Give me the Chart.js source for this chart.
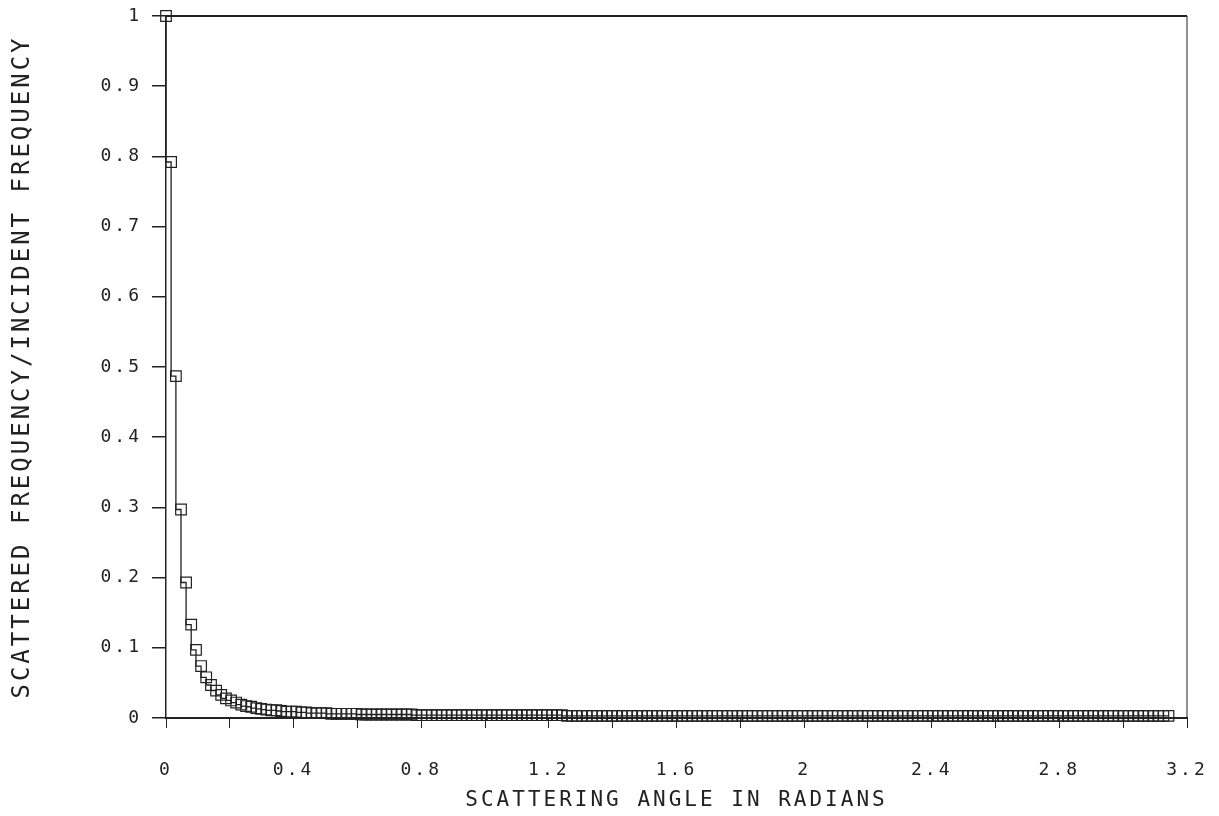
<!DOCTYPE html>
<html>
<head>
<meta charset="utf-8">
<script src="https://cdn.jsdelivr.net/npm/chart.js@4/dist/chart.umd.min.js"></script>
<style>
  html, body { margin: 0; padding: 0; background: #fff; }
  #wrap { position: relative; width: 1219px; height: 816px; }
</style>
</head>
<body>
<div id="wrap"><canvas id="c"></canvas></div>
<script>
// Scattering angle (radians) of each plotted point
const angles = [
  0, 0.016, 0.031, 0.047, 0.063, 0.079, 0.094, 0.110, 0.126, 0.141,
  0.157, 0.173, 0.188, 0.204, 0.220, 0.236, 0.251, 0.267, 0.283, 0.298,
  0.314, 0.330, 0.346, 0.361, 0.377, 0.393, 0.408, 0.424, 0.440, 0.456,
  0.471, 0.487, 0.503, 0.518, 0.534, 0.550, 0.565, 0.581, 0.597, 0.613,
  0.628, 0.644, 0.660, 0.675, 0.691, 0.707, 0.723, 0.738, 0.754, 0.770,
  0.785, 0.801, 0.817, 0.833, 0.848, 0.864, 0.880, 0.895, 0.911, 0.927,
  0.942, 0.958, 0.974, 0.990, 1.005, 1.021, 1.037, 1.052, 1.068, 1.084,
  1.100, 1.115, 1.131, 1.147, 1.162, 1.178, 1.194, 1.210, 1.225, 1.241,
  1.257, 1.272, 1.288, 1.304, 1.319, 1.335, 1.351, 1.367, 1.382, 1.398,
  1.414, 1.429, 1.445, 1.461, 1.477, 1.492, 1.508, 1.524, 1.539, 1.555,
  1.571, 1.587, 1.602, 1.618, 1.634, 1.649, 1.665, 1.681, 1.696, 1.712,
  1.728, 1.744, 1.759, 1.775, 1.791, 1.806, 1.822, 1.838, 1.854, 1.869,
  1.885, 1.901, 1.916, 1.932, 1.948, 1.963, 1.979, 1.995, 2.011, 2.026,
  2.042, 2.058, 2.073, 2.089, 2.105, 2.121, 2.136, 2.152, 2.168, 2.183,
  2.199, 2.215, 2.231, 2.246, 2.262, 2.278, 2.293, 2.309, 2.325, 2.340,
  2.356, 2.372, 2.388, 2.403, 2.419, 2.435, 2.450, 2.466, 2.482, 2.498,
  2.513, 2.529, 2.545, 2.560, 2.576, 2.592, 2.608, 2.623, 2.639, 2.655,
  2.670, 2.686, 2.702, 2.717, 2.733, 2.749, 2.765, 2.780, 2.796, 2.812,
  2.827, 2.843, 2.859, 2.875, 2.890, 2.906, 2.922, 2.937, 2.953, 2.969,
  2.985, 3.000, 3.016, 3.032, 3.047, 3.063, 3.079, 3.094, 3.110, 3.126,
  3.142
];

// Scattered frequency / incident frequency read at each angle
const ratios = [
  1.000, 0.792, 0.487, 0.297, 0.193, 0.133, 0.097, 0.074, 0.058, 0.047,
  0.039, 0.033, 0.028, 0.025, 0.022, 0.019, 0.017, 0.016, 0.014, 0.013,
  0.012, 0.011, 0.011, 0.010, 0.009, 0.009, 0.009, 0.008, 0.008, 0.007,
  0.007, 0.007, 0.007, 0.006, 0.006, 0.006, 0.006, 0.006, 0.006, 0.005,
  0.005, 0.005, 0.005, 0.005, 0.005, 0.005, 0.005, 0.005, 0.005, 0.005,
  0.004, 0.004, 0.004, 0.004, 0.004, 0.004, 0.004, 0.004, 0.004, 0.004,
  0.004, 0.004, 0.004, 0.004, 0.004, 0.004, 0.004, 0.004, 0.004, 0.004,
  0.004, 0.004, 0.004, 0.004, 0.004, 0.004, 0.004, 0.004, 0.004, 0.004,
  0.003, 0.003, 0.003, 0.003, 0.003, 0.003, 0.003, 0.003, 0.003, 0.003,
  0.003, 0.003, 0.003, 0.003, 0.003, 0.003, 0.003, 0.003, 0.003, 0.003,
  0.003, 0.003, 0.003, 0.003, 0.003, 0.003, 0.003, 0.003, 0.003, 0.003,
  0.003, 0.003, 0.003, 0.003, 0.003, 0.003, 0.003, 0.003, 0.003, 0.003,
  0.003, 0.003, 0.003, 0.003, 0.003, 0.003, 0.003, 0.003, 0.003, 0.003,
  0.003, 0.003, 0.003, 0.003, 0.003, 0.003, 0.003, 0.003, 0.003, 0.003,
  0.003, 0.003, 0.003, 0.003, 0.003, 0.003, 0.003, 0.003, 0.003, 0.003,
  0.003, 0.003, 0.003, 0.003, 0.003, 0.003, 0.003, 0.003, 0.003, 0.003,
  0.003, 0.003, 0.003, 0.003, 0.003, 0.003, 0.003, 0.003, 0.003, 0.003,
  0.003, 0.003, 0.003, 0.003, 0.003, 0.003, 0.003, 0.003, 0.003, 0.003,
  0.003, 0.003, 0.003, 0.003, 0.003, 0.003, 0.003, 0.003, 0.003, 0.003,
  0.003, 0.003, 0.003, 0.003, 0.003, 0.003, 0.003, 0.003, 0.003, 0.003,
  0.003
];

// Axis tick positions and their printed labels
const xTickValues = [0, 0.2, 0.4, 0.6, 0.8, 1.0, 1.2, 1.4, 1.6, 1.8, 2.0, 2.2, 2.4, 2.6, 2.8, 3.0, 3.2];
const xTickLabels = ['0', '', '0.4', '', '0.8', '', '1.2', '', '1.6', '', '2', '', '2.4', '', '2.8', '', '3.2'];
const yTickValues = [0, 0.1, 0.2, 0.3, 0.4, 0.5, 0.6, 0.7, 0.8, 0.9, 1];
const yTickLabels = ['0', '0.1', '0.2', '0.3', '0.4', '0.5', '0.6', '0.7', '0.8', '0.9', '1'];

const xTitle = 'SCATTERING ANGLE IN RADIANS';
const yTitle = 'SCATTERED FREQUENCY/INCIDENT FREQUENCY';

const points = angles.map((a, i) => ({ x: a, y: ratios[i] }));

const INK = '#222';
const MONO = '"DejaVu Sans Mono", "Liberation Mono", monospace';

const printLook = {
  id: 'printLook',
  beforeDraw(chart) {
    chart.ctx.letterSpacing = '3px';
  },
  afterDraw(chart) {
    const { ctx, chartArea: a } = chart;
    ctx.save();
    ctx.strokeStyle = INK;
    ctx.lineWidth = 2;
    ctx.beginPath();
    ctx.moveTo(a.left, a.top);
    ctx.lineTo(a.right, a.top);
    ctx.stroke();
    ctx.lineWidth = 1;
    ctx.beginPath();
    ctx.moveTo(a.right, a.top);
    ctx.lineTo(a.right, a.bottom);
    ctx.stroke();
    ctx.restore();
  }
};

new Chart(document.getElementById('c'), {
  type: 'line',
  data: {
    datasets: [{
      data: points,
      borderColor: INK,
      borderWidth: 1.3,
      stepped: 'after',
      pointStyle: 'rect',
      pointRadius: 7.5,
      pointBorderWidth: 1.2,
      pointBorderColor: INK,
      pointBackgroundColor: 'rgba(0,0,0,0)',
      fill: false,
      clip: false
    }]
  },
  options: {
    responsive: true,
    maintainAspectRatio: false,
    animation: false,
    events: [],
    layout: { padding: { left: 0, right: 32, top: 16, bottom: 0 } },
    plugins: { legend: { display: false }, tooltip: { enabled: false }, title: { display: false } },
    scales: {
      x: {
        type: 'linear',
        min: 0,
        max: 3.2,
        afterFit(s) { s.height = 98; s.paddingLeft = 0; s.paddingRight = 0; },
        afterBuildTicks(s) { s.ticks = xTickValues.map(v => ({ value: v })); },
        grid: { display: true, drawOnChartArea: false, drawTicks: true, tickLength: 10, color: INK, lineWidth: 1 },
        border: { display: true, color: INK, width: 2 },
        ticks: {
          autoSkip: false,
          maxRotation: 0,
          padding: 32,
          color: INK,
          font: { family: MONO, size: 18 },
          callback: (v, i) => xTickLabels[i]
        },
        title: {
          display: true,
          text: xTitle,
          color: INK,
          font: { family: MONO, size: 21 },
          padding: { top: 0, bottom: 3 }
        }
      },
      y: {
        type: 'linear',
        min: 0,
        max: 1,
        afterFit(s) { s.width = 166; s.paddingTop = 0; s.paddingBottom = 0; },
        afterBuildTicks(s) { s.ticks = yTickValues.map(v => ({ value: v })); },
        grid: { display: true, drawOnChartArea: false, drawTicks: true, tickLength: 14, color: INK, lineWidth: 1.5 },
        border: { display: true, color: INK, width: 1.5 },
        ticks: {
          autoSkip: false,
          padding: 10,
          color: INK,
          font: { family: MONO, size: 18 },
          callback: (v, i) => yTickLabels[i]
        },
        title: {
          display: true,
          text: yTitle,
          color: INK,
          font: { family: MONO, size: 24 },
          padding: { top: 8, bottom: 0 }
        }
      }
    }
  },
  plugins: [printLook]
});
</script>
</body>
</html>
